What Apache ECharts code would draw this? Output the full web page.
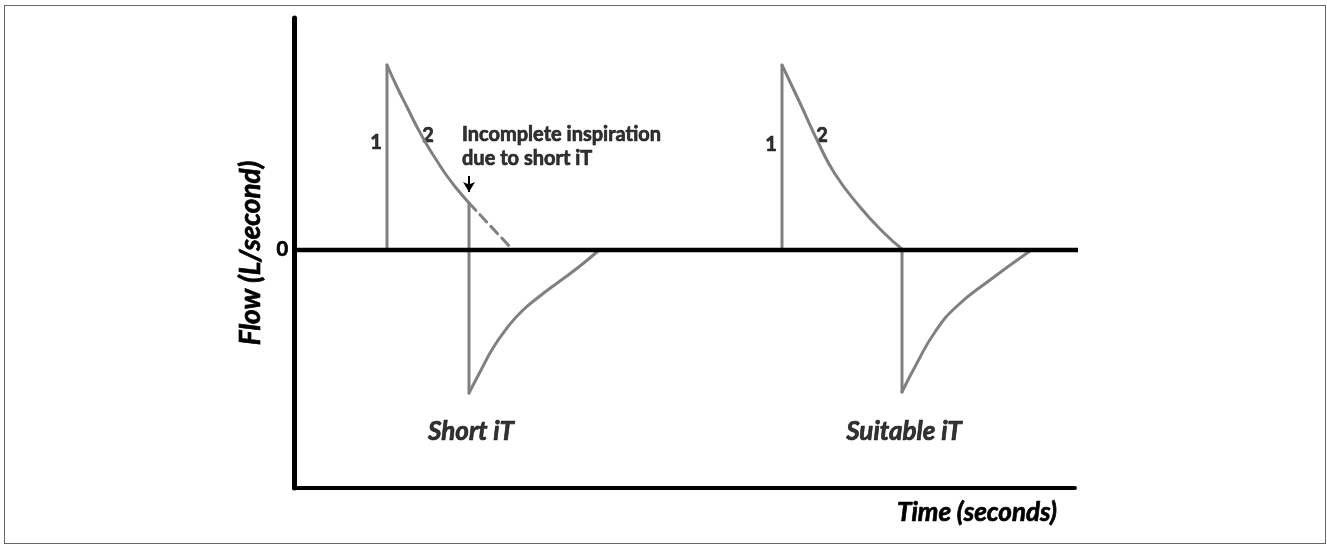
<!DOCTYPE html>
<html>
<head>
<meta charset="utf-8">
<title>Flow waveform - short vs suitable iT</title>
<script src="https://cdn.jsdelivr.net/npm/echarts@6/dist/echarts.min.js"></script>
<style>
  html, body { margin: 0; padding: 0; background: #fff; }
  #flowChart { width: 1327px; height: 546px; }
  .frame {
    position: absolute; left: 4px; top: 5px; width: 1320px; height: 537px;
    border: 1px solid #666; pointer-events: none;
  }
</style>
</head>
<body>
<div id="flowChart"></div>
<div class="frame"></div>
<script>
// time in s (arbitrary), flow in L/s (arbitrary)
const yTicks = [0];
const baseline = [[0, 0], [7.91, 0]];

// short iT cycle
const shortRise = [[0.93, 0], [0.93, 1.85]];
const shortDecay = [[0.93, 1.85], [1.03, 1.63], [1.13, 1.43], [1.23, 1.23], [1.33, 1.05], [1.43, 0.89], [1.53, 0.74], [1.63, 0.61], [1.75, 0.47]];
const shortCut = [[1.75, 0.47], [2.18, 0.01]];
const shortDrop = [[1.75, 0.47], [1.75, -1.43]];
const shortRecovery = [[1.75, -1.43], [1.86, -1.22], [1.99, -0.98], [2.13, -0.78], [2.28, -0.61], [2.46, -0.46], [2.66, -0.31], [2.86, -0.16], [3.04, -0.01]];

// suitable iT cycle
const suitRise = [[4.88, 0], [4.88, 1.85]];
const suitDecay = [[4.88, 1.85], [5.06, 1.47], [5.24, 1.08], [5.41, 0.76], [5.66, 0.43], [5.89, 0.18], [6.08, 0.01]];
const suitDrop = [[6.08, 0], [6.08, -1.42]];
const suitRecovery = [[6.08, -1.42], [6.23, -1.13], [6.41, -0.82], [6.62, -0.57], [6.96, -0.30], [7.36, -0.01]];

const notes = [
  { text: '1', at: [0.82, 1.07] },
  { text: '2', at: [1.34, 1.14] },
  { text: '1', at: [4.77, 1.05] },
  { text: '2', at: [5.28, 1.14] },
  { text: 'Short iT', at: [1.77, -1.82], big: true },
  { text: 'Suitable iT', at: [6.10, -1.82], big: true }
];

const gray = '#808080';
const font = 'Lato, "Open Sans", sans-serif';
// slight outline to get the heavy look of the original lettering
const heavy = { color: '#000', textBorderColor: '#000', textBorderWidth: 0.7 };

function trace(data, smooth, dash) {
  return {
    type: 'line',
    data: data,
    smooth: smooth ? 0.5 : false,
    symbol: 'none',
    z: 3,
    lineStyle: { color: gray, width: 3, type: dash || 'solid', cap: 'round' }
  };
}

const myChart = echarts.init(document.getElementById('flowChart'));
const chartOption = {
  animation: false,
  grid: { left: 294, right: 252, top: 18, bottom: 58, outerBoundsMode: 'none' },
  xAxis: {
    type: 'value',
    min: 0,
    max: 7.81,
    name: 'Time (seconds)',
    nameLocation: 'end',
    nameGap: -18,
    nameTextStyle: Object.assign({
      fontFamily: font, fontSize: 26, fontWeight: 'bold', fontStyle: 'italic',
      align: 'right', verticalAlign: 'top', padding: [12, 0, 0, 0]
    }, heavy),
    axisLine: { onZero: false, lineStyle: { color: '#000', width: 4 } },
    axisTick: { show: false },
    axisLabel: { show: false },
    splitLine: { show: false }
  },
  yAxis: {
    type: 'value',
    min: -2.38,
    max: 2.32,
    name: 'Flow (L/second)',
    nameLocation: 'middle',
    nameRotate: 90,
    nameGap: 24,
    nameTextStyle: Object.assign({
      fontFamily: font, fontSize: 28, fontWeight: 'bold', fontStyle: 'italic'
    }, heavy),
    axisLine: { show: true, onZero: false, lineStyle: { color: '#000', width: 5 } },
    axisTick: { show: false },
    axisLabel: Object.assign({
      customValues: yTicks,
      margin: 6,
      fontFamily: font,
      fontSize: 20,
      fontWeight: 'bold'
    }, heavy),
    splitLine: { show: false }
  },
  series: [
    trace(shortRise, false),
    trace(shortDecay, true),
    trace(shortCut, false, [10, 6]),
    trace(shortDrop, false),
    trace(shortRecovery, true),
    trace(suitRise, false),
    trace(suitDecay, true),
    trace(suitDrop, false),
    trace(suitRecovery, true),
    {
      type: 'line',
      data: baseline,
      symbol: 'none',
      clip: false,
      z: 4,
      lineStyle: { color: '#000', width: 4.5 },
      markLine: {
        silent: true,
        symbol: ['none', 'arrow'],
        symbolSize: [9, 10],
        label: { show: false },
        lineStyle: { color: '#000', width: 2, type: 'solid' },
        data: [[{ coord: [1.75, 0.74] }, { coord: [1.75, 0.58] }]]
      }
    },
    {
      type: 'scatter',
      symbolSize: 0,
      silent: true,
      data: notes.map(n => ({
        value: n.at,
        label: Object.assign({
          show: true,
          position: 'inside',
          formatter: n.text,
          fontFamily: font,
          fontWeight: 'bold',
          fontStyle: n.big ? 'italic' : 'normal',
          fontSize: n.big ? 26 : 20
        }, heavy)
      }))
    },
    {
      type: 'scatter',
      symbolSize: 0,
      silent: true,
      data: [{
        value: [1.68, 1.03],
        label: Object.assign({
          show: true,
          position: [0, 0],
          align: 'left',
          verticalAlign: 'middle',
          formatter: 'Incomplete inspiration\ndue to short iT',
          lineHeight: 24,
          fontFamily: font,
          fontWeight: 'bold',
          fontSize: 20
        }, heavy)
      }]
    }
  ]
};
myChart.setOption(chartOption);
</script>
</body>
</html>
